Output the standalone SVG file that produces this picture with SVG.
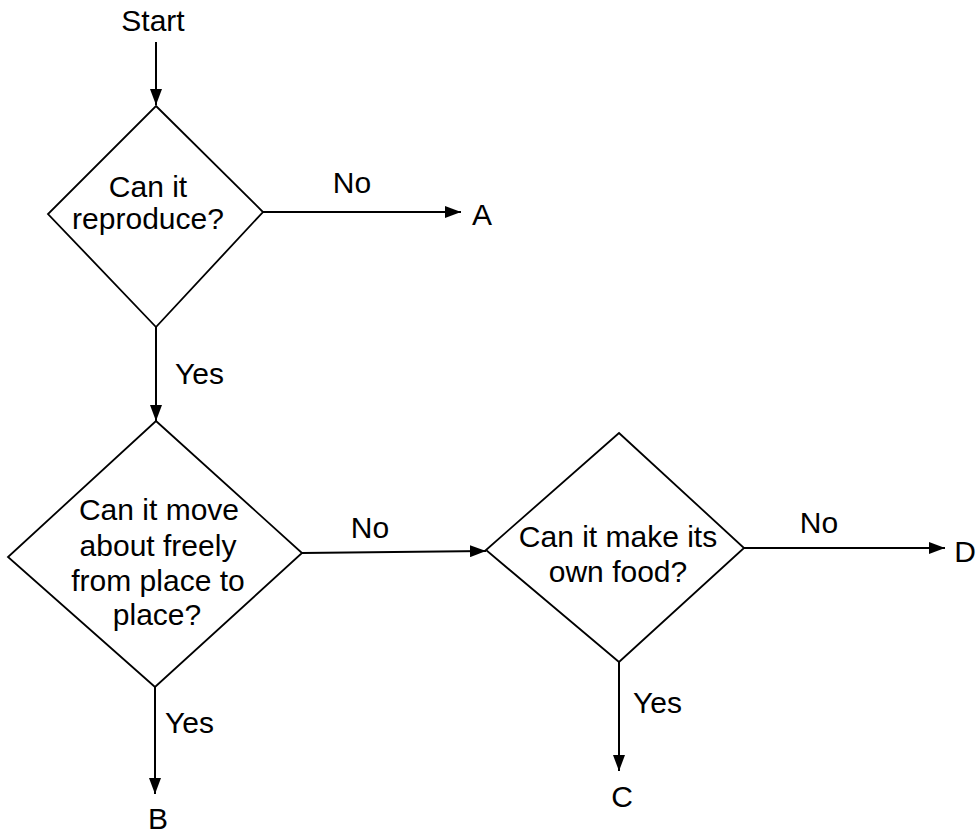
<svg xmlns="http://www.w3.org/2000/svg" width="976" height="835" viewBox="0 0 976 835">
<style>
.shape{fill:#fff;stroke:#000;stroke-width:1.8;stroke-linejoin:miter}
.conn{fill:none;stroke:#000;stroke-width:2}
text{font-family:"Liberation Sans",Arial,sans-serif;font-size:30px;fill:#000}
.c{text-anchor:middle}
</style>
<defs>
<marker id="arr" viewBox="0 0 16 12" refX="16" refY="6" markerWidth="16" markerHeight="12" markerUnits="userSpaceOnUse" orient="auto">
<path d="M0,0 L16,6 L0,12 Z" fill="#000"/>
</marker>
</defs>
<rect width="976" height="835" fill="#fff"/>
<g id="connectors">
<line class="conn" x1="156" y1="42" x2="156" y2="105" marker-end="url(#arr)"/>
<line class="conn" x1="263" y1="212" x2="461" y2="212" marker-end="url(#arr)"/>
<line class="conn" x1="156" y1="327" x2="156" y2="421" marker-end="url(#arr)"/>
<line class="conn" x1="302" y1="553" x2="486" y2="551" marker-end="url(#arr)"/>
<line class="conn" x1="155" y1="687" x2="155" y2="794" marker-end="url(#arr)"/>
<line class="conn" x1="744" y1="548" x2="945" y2="548" marker-end="url(#arr)"/>
<line class="conn" x1="619" y1="662" x2="619" y2="771" marker-end="url(#arr)"/>
<text x="352" y="193" class="c">No</text>
<text x="175" y="384">Yes</text>
<text x="370" y="538" class="c">No</text>
<text x="165" y="733">Yes</text>
<text x="819" y="533" class="c">No</text>
<text x="633" y="713">Yes</text>
</g>
<g id="start"><text x="153" y="31" class="c">Start</text></g>
<g id="q1">
<polygon class="shape" points="156,106 263,212 156,327 48,214"/>
<text x="148" y="197" class="c">Can it</text>
<text x="148" y="229" class="c">reproduce?</text>
</g>
<g id="q2">
<polygon class="shape" points="156,421 302,553 155,687 8,557"/>
<text x="159" y="520" class="c">Can it move</text>
<text x="158" y="556" class="c">about freely</text>
<text x="158" y="591" class="c">from place to</text>
<text x="157" y="625" class="c">place?</text>
</g>
<g id="q3">
<polygon class="shape" points="619,433 744,548 619,662 486,550"/>
<text x="618" y="547" class="c">Can it make its</text>
<text x="618" y="582" class="c">own food?</text>
</g>
<g id="endA"><text x="482" y="225" class="c">A</text></g>
<g id="endB"><text x="158" y="829" class="c">B</text></g>
<g id="endC"><text x="622" y="807" class="c">C</text></g>
<g id="endD"><text x="965" y="562" class="c">D</text></g>
</svg>
